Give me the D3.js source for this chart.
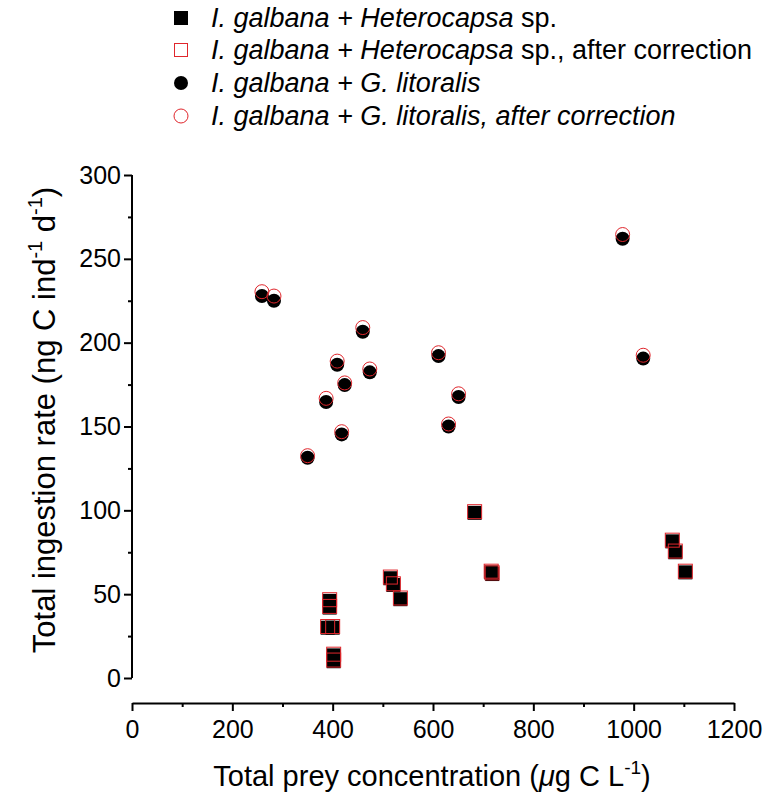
<!DOCTYPE html>
<html>
<head>
<meta charset="utf-8">
<script src="https://cdn.jsdelivr.net/npm/d3@7"></script>
<style>
  html, body { margin: 0; padding: 0; background: #fff; }
  svg { display: block; font-family: "Liberation Sans", Arial, sans-serif; }
</style>
</head>
<body>
<svg id="chart" width="768" height="795"></svg>
<script>
// ---- data ----
const hetX  = [394, 394, 390, 400, 402, 402, 515, 521, 535, 683, 716, 718, 1077, 1083, 1103];
const hetY  = [46, 42, 30, 30, 13.5, 10, 59.5, 55.5, 47, 98.5, 63, 62, 81.5, 75, 63];
const hetXc = [394, 394, 390, 400, 402, 402, 515, 521, 535, 683, 716, 718, 1077, 1083, 1103];
const hetYc = [46.7, 42.7, 30.7, 30.7, 14.2, 10.7, 60.2, 56.2, 47.7, 99.2, 63.7, 62.7, 82.2, 75.7, 63.7];

const glX  = [259, 283, 350, 387, 409, 418, 424, 460, 474, 611, 631, 651, 978, 1019];
const glY  = [227.8, 225, 131.4, 164.6, 186.8, 145.3, 174.7, 206.5, 182.3, 192, 150, 167.6, 262, 190.5];
const glXc = [259, 283, 350, 387, 409, 418, 424, 460, 474, 611, 631, 651, 978, 1019];
const glYc = [230.4, 227.8, 132.6, 166.8, 189, 146.9, 176, 209, 184.3, 194, 151.5, 169.5, 264.5, 192.5];

const xTicks = [0, 200, 400, 600, 800, 1000, 1200];
const xMinor = [100, 300, 500, 700, 900, 1100];
const yTicks = [0, 50, 100, 150, 200, 250, 300];
const yMinor = [25, 75, 125, 175, 225, 275];

// ---- layout ----
const svg = d3.select("#chart");
const x = d3.scaleLinear().domain([0, 1200]).range([132, 734]);
const y = d3.scaleLinear().domain([0, 300]).range([678, 175]);
const xAxisY = 703;
const yAxisX = 132;
const FONT = "Liberation Sans, Arial, sans-serif";

// y axis
const gy = svg.append("g").attr("transform", `translate(${yAxisX},0)`);
gy.call(d3.axisLeft(y).tickValues(yTicks).tickSize(8).tickSizeOuter(0).tickPadding(3).tickFormat(d3.format("d")));
gy.append("g").call(d3.axisLeft(y).tickValues(yMinor).tickSize(4).tickSizeOuter(0).tickFormat(""))
  .select(".domain").remove();
gy.selectAll("path.domain").attr("stroke-width", 2).attr("d", `M0,${y(300)}V${y(0)}`);
gy.selectAll(".tick line").attr("stroke-width", 2);
gy.selectAll(".tick text").attr("font-size", 25).attr("font-family", FONT).attr("fill", "#000");

// x axis
const gx = svg.append("g").attr("transform", `translate(0,${xAxisY})`);
gx.call(d3.axisBottom(x).tickValues(xTicks).tickSize(8).tickSizeOuter(0).tickPadding(9).tickFormat(d3.format("d")));
gx.append("g").call(d3.axisBottom(x).tickValues(xMinor).tickSize(4).tickSizeOuter(0).tickFormat(""))
  .select(".domain").remove();
gx.selectAll("path.domain").attr("stroke-width", 2);
gx.selectAll(".tick line").attr("stroke-width", 2);
gx.selectAll(".tick text").attr("font-size", 25).attr("font-family", FONT).attr("fill", "#000");

// axis titles
const xt = svg.append("text").attr("x", 432).attr("y", 786).attr("text-anchor", "middle")
  .attr("font-size", 29).attr("fill", "#000");
xt.append("tspan").text("Total prey concentration (");
xt.append("tspan").attr("font-style", "italic").text("μ");
xt.append("tspan").text("g C L");
xt.append("tspan").attr("font-size", 19).attr("dy", -12).text("-1");
xt.append("tspan").attr("dy", 12).text(")");

const yt = svg.append("text").attr("transform", "translate(55,420) rotate(-90)")
  .attr("text-anchor", "middle").attr("font-size", 31).attr("fill", "#000");
yt.append("tspan").text("Total ingestion rate (ng C ind");
yt.append("tspan").attr("font-size", 20).attr("dy", -13).text("-1");
yt.append("tspan").attr("dy", 13).text(" d");
yt.append("tspan").attr("font-size", 20).attr("dy", -13).text("-1");
yt.append("tspan").attr("dy", 13).text(")");

// ---- marks ----
const sq = 14, r = 7;
const het = hetX.map((d, i) => ({ x: d, y: hetY[i] }));
const hetC = hetXc.map((d, i) => ({ x: d, y: hetYc[i] }));
const gl = glX.map((d, i) => ({ x: d, y: glY[i] }));
const glC = glXc.map((d, i) => ({ x: d, y: glYc[i] }));

const plot = svg.append("g");
plot.selectAll("rect.het").data(het).join("rect").attr("class", "het")
  .attr("x", d => x(d.x) - sq / 2).attr("y", d => y(d.y) - sq / 2)
  .attr("width", sq).attr("height", sq).attr("fill", "#000");
plot.selectAll("rect.hetc").data(hetC).join("rect").attr("class", "hetc")
  .attr("x", d => x(d.x) - sq / 2).attr("y", d => y(d.y) - sq / 2)
  .attr("width", sq).attr("height", sq).attr("fill", "none")
  .attr("stroke", "#e0262c").attr("stroke-width", 1);
plot.selectAll("circle.gl").data(gl).join("circle").attr("class", "gl")
  .attr("cx", d => x(d.x)).attr("cy", d => y(d.y)).attr("r", r).attr("fill", "#000");
plot.selectAll("circle.glc").data(glC).join("circle").attr("class", "glc")
  .attr("cx", d => x(d.x)).attr("cy", d => y(d.y)).attr("r", r).attr("fill", "none")
  .attr("stroke", "#e0262c").attr("stroke-width", 1);

// ---- legend ----
const legRows = [18, 50, 83, 116];
const lg = svg.append("g");
lg.append("rect").attr("x", 174).attr("y", legRows[0] - 7).attr("width", 14).attr("height", 14).attr("fill", "#000");
lg.append("rect").attr("x", 174.5).attr("y", legRows[1] - 6.5).attr("width", 13).attr("height", 13)
  .attr("fill", "none").attr("stroke", "#e0262c").attr("stroke-width", 1);
lg.append("circle").attr("cx", 181).attr("cy", legRows[2]).attr("r", 7).attr("fill", "#000");
lg.append("circle").attr("cx", 181).attr("cy", legRows[3]).attr("r", 7).attr("fill", "none")
  .attr("stroke", "#e0262c").attr("stroke-width", 1);

const legTexts = [
  [["I. galbana + Heterocapsa", true], [" sp.", false]],
  [["I. galbana + Heterocapsa", true], [" sp., after correction", false]],
  [["I. galbana + G. litoralis", true]],
  [["I. galbana + G. litoralis, after correction", true]]
];
legTexts.forEach((parts, i) => {
  const t = lg.append("text").attr("x", 211).attr("y", legRows[i] + 9)
    .attr("font-size", 27).attr("fill", "#000");
  parts.forEach(p => t.append("tspan").attr("font-style", p[1] ? "italic" : "normal").text(p[0]));
});
</script>
</body>
</html>
